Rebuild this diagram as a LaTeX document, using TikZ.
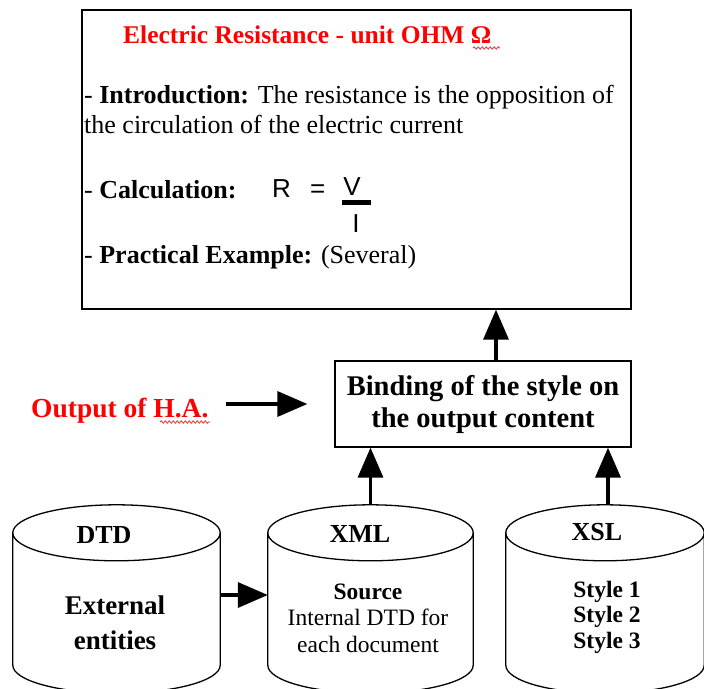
\documentclass[tikz,border=0pt]{standalone}
\usepackage{fontspec}
\setmainfont{Liberation Serif}
\newfontfamily\formulafont{Liberation Sans}
\usetikzlibrary{arrows.meta, calc, positioning, shapes.geometric, decorations.pathmorphing}
\definecolor{titlered}{RGB}{255, 0, 0}
\definecolor{squigglered}{RGB}{235, 50, 50}

\begin{document}
\begin{tikzpicture}[x=1pt, y=-1pt,
	panel/.style={draw, line width=1.3pt, inner sep=0pt},
	store/.style={minimum height=132pt, inner sep=0pt},
	boxline/.style={anchor=base west, inner sep=0pt, font=\fontsize{26}{30}\selectfont},
	cyltitle/.style={anchor=base, inner sep=0pt, font=\fontsize{26}{30}\selectfont\bfseries},
	cylbody/.style={align=center, inner sep=0pt},
	arr/.style={-{Triangle[length=30pt, width=25pt]}, line width=3.5pt},
	squiggle/.style={draw=squigglered, line width=0.8pt, decorate,
		decoration={snake, amplitude=1.2pt, segment length=4pt}}
	]
	\useasboundingbox (0,0) rectangle (704,688);
	\clip (0,0) rectangle (704,688);

	% result page
	\node[panel, minimum width=549pt, minimum height=299pt] (page) at (356.5,159.5) {};
	\node[boxline, font=\fontsize{25.5}{30}\selectfont\bfseries, text=titlered] (title) at (123,43)
	{Electric Resistance - unit OHM Ω};
	\node[boxline] (intro) at (84,103) {- \textbf{Introduction:} The resistance is the opposition of};
	\node[boxline] (intro2) at (84,133) {the circulation of the electric current};
	\node[boxline] (calc) at (84,198) {- \textbf{Calculation:}};
	\node[boxline] (prac) at (84,263) {- \textbf{Practical Example:} (Several)};
	% formula R = V / I
	\node[boxline, font=\fontsize{26}{30}\formulafont] (resR) at (272,197) {R};
	\node[boxline, font=\fontsize{26}{30}\formulafont] (eq) at (310,197) {=};
	\node[anchor=base, inner sep=0pt, font=\fontsize{26}{30}\formulafont] (volt) at (352,195) {V};
	\node[anchor=base, inner sep=0pt, font=\fontsize{26}{30}\formulafont] (amp) at (356,232) {I};
	\draw[line width=4.5pt] (342,202.5) -- (371,202.5);
	\draw[squiggle] (473,48) -- (500,48);

	% binding step
	\node[panel, minimum width=296pt, minimum height=86pt, align=center,
	font=\fontsize{28.5}{32}\selectfont\bfseries] (bind) at (483,404)
	{Binding of the style on\\the output content};
	\node[anchor=base west, inner sep=0pt, text=titlered,
	font=\fontsize{27.5}{30}\selectfont\bfseries] (hatext) at (31,417) {Output of H.A.};
	\draw[squiggle] (160,422) -- (210,422);

	% data stores
	\node[store, minimum width=207pt] (dtd) at (116.5,599) {};
	\node[store, minimum width=205pt] (xml) at (370.5,599) {};
	\node[store, minimum width=198pt] (xsl) at (605,599) {};
	\foreach \s in {dtd, xml, xsl} {
		\draw[line width=1.3pt] let \p1 = ($(\s.east)-(\s.west)$) in
		(\s.north) ellipse [x radius=0.5*\x1, y radius=28pt]
		(\s.north west) -- (\s.south west)
		arc [start angle=180, end angle=360, x radius=0.5*\x1, y radius=28pt]
		-- (\s.north east);
	}
	\node[cyltitle] (dtdname) at (104,543) {DTD};
	\node[cyltitle] (xmlname) at (360,542) {XML};
	\node[cyltitle] (xslname) at (597,540) {XSL};
	\node[cylbody, font=\fontsize{27}{35}\selectfont\bfseries] (dtdbody) at (115,623)
	{External\\entities};
	\node[cylbody, font=\fontsize{23.5}{26.5}\selectfont] (xmlbody) at (368,618)
	{\textbf{Source}\\Internal DTD for\\each document};
	\node[cylbody, font=\fontsize{23.5}{25.5}\selectfont\bfseries] (xslbody) at (607,617)
	{Style 1\\Style 2\\Style 3};

	% arrows
	\draw[arr] ([xshift=13pt]bind.north) -- ([xshift=13pt]bind.north |- page.south);
	\draw[arr] ([yshift=28pt]xml.north) -- (xml.north |- bind.south);
	\draw[arr] ([xshift=3pt, yshift=28pt]xsl.north) -- ([xshift=3pt]xsl.north |- bind.south);
	\draw[arr] ([yshift=4pt]dtd.east) -- ([yshift=4pt]xml.west);
	\draw[arr, shorten <=17pt, shorten >=27pt] (hatext.east |- bind.west) -- (bind.west);
\end{tikzpicture}
\end{document}
